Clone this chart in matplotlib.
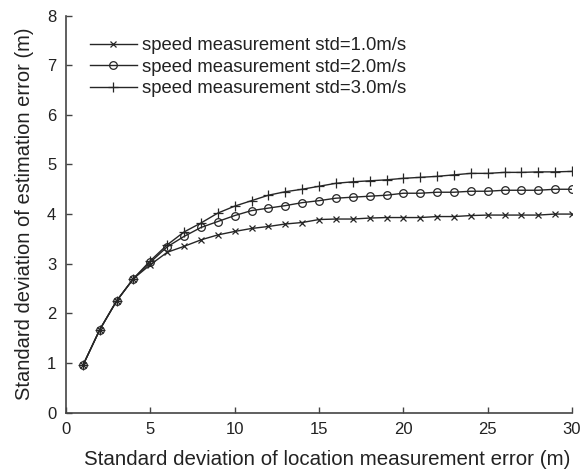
import numpy as np
import matplotlib
matplotlib.use("Agg")
import matplotlib.pyplot as plt

plt.rcParams['font.family'] = ['Liberation Sans', 'DejaVu Sans']

# location measurement error std (m)
loc_std = list(range(1, 31))

# estimation error std for each speed measurement std
err_speed1 = [0.95, 1.67, 2.25, 2.70, 2.98, 3.23, 3.35, 3.48, 3.58, 3.65,
              3.71, 3.75, 3.80, 3.83, 3.89, 3.90, 3.90, 3.92, 3.93, 3.93,
              3.93, 3.95, 3.95, 3.97, 3.98, 3.98, 3.98, 3.98, 4.00, 4.00]
err_speed2 = [0.95, 1.67, 2.25, 2.70, 3.03, 3.34, 3.55, 3.73, 3.85, 3.97,
              4.07, 4.12, 4.17, 4.23, 4.27, 4.32, 4.34, 4.36, 4.38, 4.42,
              4.42, 4.44, 4.44, 4.46, 4.46, 4.48, 4.48, 4.48, 4.50, 4.50]
err_speed3 = [0.95, 1.67, 2.25, 2.70, 3.06, 3.38, 3.64, 3.82, 4.02, 4.16,
              4.27, 4.38, 4.45, 4.50, 4.56, 4.62, 4.65, 4.67, 4.69, 4.72,
              4.74, 4.76, 4.79, 4.82, 4.82, 4.84, 4.84, 4.85, 4.85, 4.86]

labels = ["speed measurement std=1.0m/s",
          "speed measurement std=2.0m/s",
          "speed measurement std=3.0m/s"]

fig = plt.figure(figsize=(5.81, 4.71), dpi=100)
ax = fig.add_axes([0.1136, 0.124, 0.871, 0.843])

line_kw = dict(color='#262626', linewidth=1.0)
ax.plot(loc_std, err_speed1, marker='x', markersize=5, markeredgewidth=0.9,
        label=labels[0], **line_kw)
ax.plot(loc_std, err_speed2, marker='o', markersize=5.5, markerfacecolor='none',
        markeredgewidth=0.9, label=labels[1], **line_kw)
ax.plot(loc_std, err_speed3, marker='+', markersize=7, markeredgewidth=0.9,
        label=labels[2], **line_kw)

ax.set_xlim(0, 30)
ax.set_ylim(0, 8)
ax.set_xticks(np.arange(0, 31, 5))
ax.set_yticks(np.arange(0, 9, 1))

for side in ['top', 'right']:
    ax.spines[side].set_visible(False)
for side in ['left', 'bottom']:
    ax.spines[side].set_color('#444444')
    ax.spines[side].set_linewidth(1.2)

ax.tick_params(direction='in', length=4, width=1, colors='#444444',
               labelcolor='#222222', labelsize=12, pad=7)

ax.set_xlabel("Standard deviation of location measurement error (m)",
              fontsize=14.8, color='#222222', labelpad=9)
ax.xaxis.label.set_x(0.516)
ax.set_ylabel("Standard deviation of estimation error (m)",
              fontsize=14.5, color='#222222', labelpad=9)

leg = ax.legend(loc='upper left', frameon=False, fontsize=13.3, handlelength=2.55,
                handletextpad=0.3, labelspacing=0.24, borderpad=0,
                borderaxespad=0, bbox_to_anchor=(0.047, 0.945))
for txt in leg.get_texts():
    txt.set_color('#222222')

fig.savefig("out.png", dpi=100)
